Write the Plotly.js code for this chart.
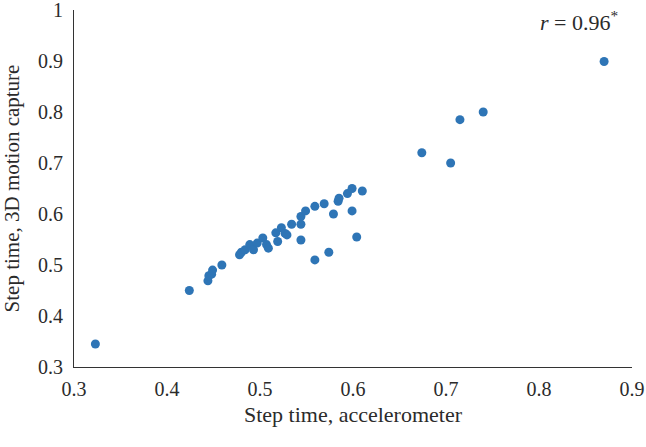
<!DOCTYPE html>
<html>
<head>
<meta charset="utf-8">
<script src="https://cdn.plot.ly/plotly-3.0.1.min.js"></script>
<style>html,body{margin:0;padding:0;background:#fff;}#chart{width:646px;height:447px;}</style>
</head>
<body>
<div id="chart"></div>
<script>
const accelerometer = [0.323,0.424,0.444,0.445,0.448,0.449,0.459,0.478,0.480,0.484,0.489,0.493,0.497,0.503,0.507,0.509,0.517,0.519,0.523,0.527,0.529,0.534,0.544,0.544,0.544,0.549,0.559,0.559,0.569,0.574,0.579,0.584,0.585,0.594,0.599,0.599,0.604,0.610,0.674,0.705,0.715,0.740,0.870];
const motionCapture = [0.345,0.450,0.469,0.479,0.482,0.490,0.500,0.520,0.525,0.530,0.540,0.530,0.543,0.553,0.540,0.533,0.563,0.546,0.573,0.562,0.559,0.580,0.549,0.580,0.595,0.606,0.510,0.615,0.620,0.525,0.600,0.625,0.631,0.640,0.650,0.606,0.555,0.645,0.720,0.700,0.785,0.800,0.899];
const xTicks = [0.3,0.4,0.5,0.6,0.7,0.8,0.9];
const yTicks = [0.3,0.4,0.5,0.6,0.7,0.8,0.9,1];
const xTickText = ['0.3','0.4','0.5','0.6','0.7','0.8','0.9'];
const yTickText = ['0.3','0.4','0.5','0.6','0.7','0.8','0.9','1'];

const font = 'Liberation Serif, DejaVu Serif, serif';
const textColor = '#2b2b2b';
Plotly.newPlot('chart', [{
  x: accelerometer, y: motionCapture, type: 'scatter', mode: 'markers',
  marker: {color: '#2E75B6', size: 9}
}], {
  width: 646, height: 447,
  margin: {l: 74, r: 14, t: 10, b: 80},
  paper_bgcolor: '#fff', plot_bgcolor: '#fff',
  font: {family: font, size: 20, color: textColor},
  showlegend: false,
  xaxis: {
    range: [0.3, 0.9], tickvals: xTicks, ticktext: xTickText, automargin: false,
    showgrid: false, zeroline: false, showline: true, linecolor: '#333', linewidth: 1,
    ticks: '', ticklabelstandoff: 4, ticklabeloverflow: 'allow', tickfont: {family: font, size: 20, color: textColor},
    title: {text: 'Step time, accelerometer', font: {family: font, size: 22, color: textColor}, standoff: 7}
  },
  yaxis: {
    range: [0.3, 1], tickvals: yTicks, ticktext: yTickText, automargin: false,
    showgrid: false, zeroline: false, showline: true, linecolor: '#333', linewidth: 1,
    ticks: '', ticklabelstandoff: 6, ticklabeloverflow: 'allow', tickfont: {family: font, size: 20, color: textColor},
    title: {text: 'Step time, 3D motion capture', font: {family: font, size: 21, color: textColor}, standoff: 12}
  },
  annotations: [{
    x: 0.843, y: 0.979, xref: 'x', yref: 'y', showarrow: false,
    text: '<i>r</i> = 0.96<sup>*</sup>',
    font: {family: font, size: 22, color: textColor}
  }]
}, {displayModeBar: false, staticPlot: true});
</script>
</body>
</html>
